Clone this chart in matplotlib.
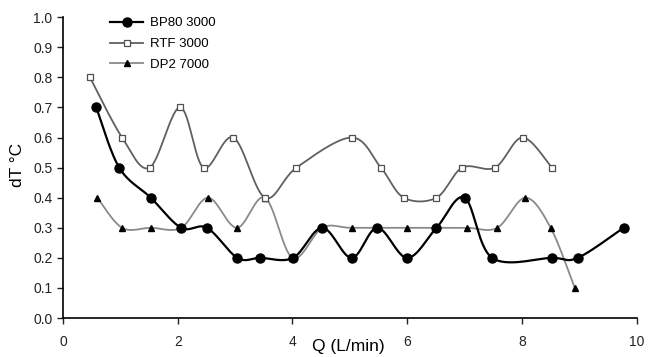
import numpy as np
import matplotlib.pyplot as plt

plt.rcParams['font.family'] = ['Liberation Sans', 'DejaVu Sans']

bp_q = [0.58, 0.98, 1.53, 2.06, 2.51, 3.04, 3.44, 4.01, 4.52, 5.03, 5.48, 6.0,
        6.51, 7.0, 7.48, 8.52, 8.97, 9.77]
bp_dt = [0.7, 0.5, 0.4, 0.3, 0.3, 0.2, 0.2, 0.2, 0.3, 0.2, 0.3, 0.2,
         0.3, 0.4, 0.2, 0.2, 0.2, 0.3]

rtf_q = [0.47, 1.03, 1.51, 2.04, 2.45, 2.97, 3.52, 4.07, 5.03, 5.54, 5.94,
         6.51, 6.96, 7.53, 8.01, 8.52]
rtf_dt = [0.8, 0.6, 0.5, 0.7, 0.5, 0.6, 0.4, 0.5, 0.6, 0.5, 0.4,
          0.4, 0.5, 0.5, 0.6, 0.5]

dp_q = [0.6, 1.03, 1.53, 2.06, 2.53, 3.03, 3.52, 4.0, 4.52, 5.03, 6.0,
        6.51, 7.05, 7.57, 8.06, 8.5, 8.92]
dp_dt = [0.4, 0.3, 0.3, 0.3, 0.4, 0.3, 0.4, 0.2, 0.3, 0.3, 0.3,
         0.3, 0.3, 0.3, 0.4, 0.3, 0.1]

x_ticks = [0, 2, 4, 6, 8, 10]
y_ticks = [0.0, 0.1, 0.2, 0.3, 0.4, 0.5, 0.6, 0.7, 0.8, 0.9, 1.0]


def smooth(xs, ys, sx=57.4, sy=301.0, n=30):
    # Excel-like smoothed line: bezier through points, done in pixel-ish space
    p = np.column_stack([np.array(xs) * sx, np.array(ys) * sy])
    pts = np.vstack([p[0], p, p[-1]])
    out = []
    t = np.linspace(0, 1, n)[:, None]
    for i in range(1, len(pts) - 2):
        p0, p1, p2, p3 = pts[i - 1], pts[i], pts[i + 1], pts[i + 2]
        c1 = p1 + (p2 - p0) / 6
        c2 = p2 - (p3 - p1) / 6
        seg = ((1 - t) ** 3) * p1 + 3 * ((1 - t) ** 2) * t * c1 \
            + 3 * (1 - t) * t ** 2 * c2 + t ** 3 * p2
        out.append(seg)
    out = np.vstack(out)
    return out[:, 0] / sx, out[:, 1] / sy


fig = plt.figure(figsize=(6.58, 3.57), dpi=100)
ax = fig.add_axes([0.0957, 0.109, 0.872, 0.843])

sx, sy = smooth(dp_q, dp_dt)
ax.plot(sx, sy, color='#8a8a8a', lw=1.3, zorder=2)
ax.plot(dp_q, dp_dt, ls='none', marker='^', ms=5, color='black', zorder=3)

sx, sy = smooth(rtf_q, rtf_dt)
ax.plot(sx, sy, color='#606060', lw=1.3, zorder=2)
ax.plot(rtf_q, rtf_dt, ls='none', marker='s', ms=5, mfc='white',
        mec='#505050', mew=0.9, zorder=3)

sx, sy = smooth(bp_q, bp_dt)
ax.plot(sx, sy, color='black', lw=1.6, zorder=4)
ax.plot(bp_q, bp_dt, ls='none', marker='o', ms=6.5, color='black', zorder=5)

h1, = ax.plot([], [], color='black', lw=1.6, marker='o', ms=6.5)
h2, = ax.plot([], [], color='#606060', lw=1.3, marker='s', ms=5,
              mfc='white', mec='#505050', mew=0.9)
h3, = ax.plot([], [], color='#8a8a8a', lw=1.3, marker='^', ms=5,
              mfc='black', mec='black')
ax.legend([h1, h2, h3], ['BP80 3000', 'RTF 3000', 'DP2 7000'],
          loc='upper left', bbox_to_anchor=(0.082, 1.0), frameon=False,
          fontsize=9.5, borderpad=0, borderaxespad=0, handlelength=2.5,
          handletextpad=0.55, labelspacing=0.65)

ax.set_xlim(0, 10)
ax.set_ylim(0, 1.0)
ax.set_xticks(x_ticks)
ax.set_yticks(y_ticks)
ax.set_yticklabels(['%.1f' % v for v in y_ticks])
ax.tick_params(direction='out', length=4, width=1, labelsize=10,
               colors='#222222')
ax.tick_params(axis='x', pad=8)
ax.spines['top'].set_visible(False)
ax.spines['right'].set_visible(False)
ax.spines['left'].set_linewidth(1.2)
ax.spines['bottom'].set_linewidth(1.2)

ax.set_xlabel('Q (L/min)', fontsize=12.5)
ax.xaxis.set_label_coords(0.498, -0.068)
ax.set_ylabel('dT \u00b0C', fontsize=12.5)
ax.yaxis.set_label_coords(-0.066, 0.51)

fig.savefig('out.png', dpi=100)
